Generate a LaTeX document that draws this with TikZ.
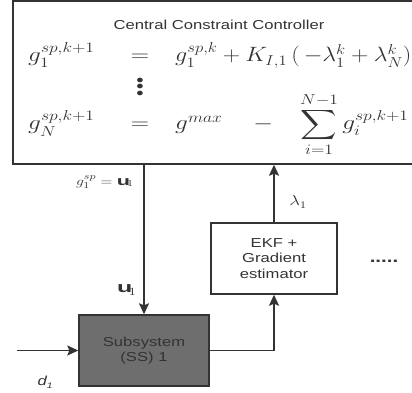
\documentclass[tikz,border=0pt]{standalone}
\usepackage{fontspec}
\setmainfont{Liberation Sans}[FakeStretch=1.28]
\usepackage{amsmath}
\usetikzlibrary{arrows.meta, positioning, calc}

\definecolor{linegray}{HTML}{333333}
\definecolor{boxgray}{HTML}{6E6E6E}

\begin{document}
\begin{tikzpicture}[
    x=1pt, y=-1pt,
    every node/.style={text=linegray},
    arrow/.style={-{Stealth[length=11pt, width=10pt, inset=2pt]}, line width=1.6pt, draw=linegray},
    block/.style={draw=linegray, line width=1.4pt, align=center, font=\fontsize{13}{15.5}\selectfont},
    eqn/.style={xscale=1.22, inner sep=0pt, font=\fontsize{20.74}{25}\selectfont},
    lbl/.style={xscale=1.3, inner sep=0pt, font=\fontsize{#1}{#1}\selectfont}
]
\useasboundingbox (0,0) rectangle (412,393);

% === BLOCKS ===

% Central controller (runs off the right edge)
\node[block, minimum width=417pt, minimum height=163pt] (ctrl) at (221.5, 82.5) {};
\node[font=\fontsize{13}{15}\selectfont] (title) at (219, 25) {Central Constraint Controller};

% EKF + gradient estimator
\node[block, minimum width=126pt, minimum height=71pt] (ekf) at (274, 258.5)
    {EKF +\\Gradient\\estimator};

% Subsystem 1
\node[block, fill=boxgray, minimum width=130pt, minimum height=71pt] (ss) at (144, 350.5)
    {Subsystem\\(SS) 1};

% === UPDATE LAWS ===

\node[eqn, anchor=base west] (lhsA) at (28, 62) {$g_1^{sp,k+1}$};
\node[eqn, anchor=base] (eqA) at (140, 62) {$=$};
\node[eqn, xscale=0.95, anchor=base west] (rhsA) at (175, 62)
    {$g_1^{sp,k} + K_{I,1}\,(\,{-}\lambda_1^k + \lambda_N^k)$};

\node[eqn] (vdots) at (140, 87)
    {\vbox{\baselineskip=6.5pt\lineskiplimit=-20pt
      \hbox{$\scriptscriptstyle\bullet$}\hbox{$\scriptscriptstyle\bullet$}\hbox{$\scriptscriptstyle\bullet$}}};

\node[eqn, anchor=base west] (lhsB) at (28, 130) {$g_N^{sp,k+1}$};
\node[eqn, anchor=base] (eqB) at (140, 130) {$=$};
\node[eqn, anchor=base west] (rhsB) at (175, 130)
    {$g^{max} \hspace{1.0em} - \hspace{0.85em} \displaystyle\sum_{i=1}^{N-1} g_i^{sp,k+1}$};

% === SIGNALS ===

% set point down to SS 1
\draw[arrow] (ss.north |- ctrl.south) -- (ss.north);
\node[lbl=13, anchor=east] (gsp) at (134, 182) {$g_1^{sp} = \mathbf{u}_1$};
\node[lbl=15, anchor=east] (uone) at (137, 290) {$\mathbf{u}_1$};

% SS 1 output up to estimator
\draw[arrow] (ss.east) -| (ekf.south);

% gradient back to controller
\draw[arrow] (ekf.north) -- (ekf.north |- ctrl.south);
\node[lbl=14, anchor=west] (lam) at (289, 202) {$\lambda_1$};

% disturbance
\coordinate (din) at (17, 350.5);
\draw[arrow] (din) -- (ss.west);
\node[font=\fontsize{13}{15}\selectfont\itshape] (dist) at (45, 382)
    {d\raisebox{-0.4ex}{\fontsize{8}{8}\selectfont 1}};

% further subsystems
\node[font=\fontsize{16}{16}\selectfont\bfseries] (more) at (384, 261) {.....};

\end{tikzpicture}
\end{document}
